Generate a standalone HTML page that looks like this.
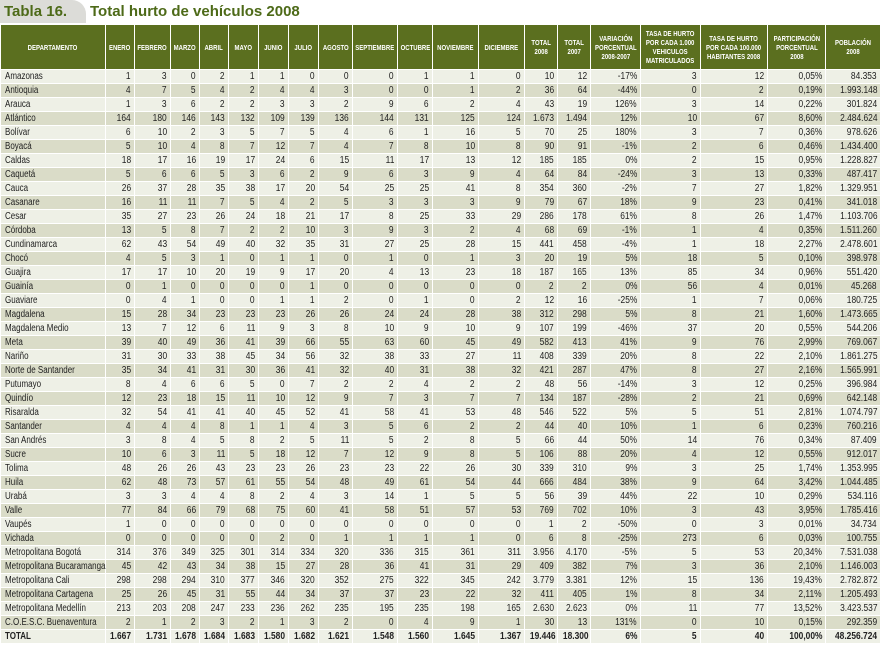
<!DOCTYPE html>
<html><head><meta charset="utf-8">
<style>
*{margin:0;padding:0;box-sizing:border-box}
body{width:880px;height:646px;background:#fff;font-family:"Liberation Sans",sans-serif;overflow:hidden;position:relative}
#title-tab{position:absolute;left:0;top:0;width:86px;height:23px;background:#dcdcd8;border-top-right-radius:14px;color:#4d6a18;font:bold 15px "Liberation Sans",sans-serif;padding:3px 0 0 4px}
#title-text{position:absolute;left:90px;top:3px;color:#4d6a18;font:bold 15px "Liberation Sans",sans-serif}
table{position:absolute;left:0;top:24px;width:880px;border-collapse:collapse;table-layout:fixed}
th{background:#5b6f1f;color:#fff;font-size:7.5px;font-weight:bold;height:45px;border:1px solid #fff;text-align:center;line-height:9px;padding:0;overflow:hidden}
th span{display:inline-block;transform:scaleX(.8);transform-origin:center;width:126%;margin-left:-13%}
td{height:14px;font-size:10px;color:#222;text-align:right;padding:0 3px 0 0;border:1px solid #fff;white-space:nowrap;overflow:hidden;line-height:12px}
td span{display:inline-block;transform:scaleX(.84);transform-origin:right center}
td.dep{text-align:left;padding-left:4px;overflow:visible}
td.dep span{transform:scaleX(.8);transform-origin:left center}
tr.l td{background:#eef0e6}
tr.d td{background:#dadcc8}
tr.tot td{font-weight:bold;background:#eef0e6}
</style></head><body>
<div id="title-tab">Tabla 16.</div>
<div id="title-text">Total hurto de vehículos 2008</div>
<table>
<colgroup><col style="width:105px"><col style="width:29px"><col style="width:36px"><col style="width:29px"><col style="width:29px"><col style="width:30px"><col style="width:30px"><col style="width:30px"><col style="width:34px"><col style="width:45px"><col style="width:35px"><col style="width:46px"><col style="width:46px"><col style="width:33px"><col style="width:33px"><col style="width:50px"><col style="width:60px"><col style="width:67px"><col style="width:58px"><col style="width:55px"></colgroup>
<thead><tr>
<th><span>DEPARTAMENTO</span></th>
<th><span>ENERO</span></th>
<th><span>FEBRERO</span></th>
<th><span>MARZO</span></th>
<th><span>ABRIL</span></th>
<th><span>MAYO</span></th>
<th><span>JUNIO</span></th>
<th><span>JULIO</span></th>
<th><span>AGOSTO</span></th>
<th><span>SEPTIEMBRE</span></th>
<th><span>OCTUBRE</span></th>
<th><span>NOVIEMBRE</span></th>
<th><span>DICIEMBRE</span></th>
<th><span>TOTAL<br>2008</span></th>
<th><span>TOTAL<br>2007</span></th>
<th><span>VARIACIÓN<br>PORCENTUAL<br>2008-2007</span></th>
<th><span>TASA DE HURTO<br>POR CADA 1.000<br>VEHICULOS<br>MATRICULADOS</span></th>
<th><span>TASA DE HURTO<br>POR CADA 100.000<br>HABITANTES 2008</span></th>
<th><span>PARTICIPACIÓN<br>PORCENTUAL<br>2008</span></th>
<th><span>POBLACIÓN<br>2008</span></th>
</tr></thead>
<tbody id="tb"></tbody>
</table>
<script>
const departments=["Amazonas","Antioquia","Arauca","Atlántico","Bolívar","Boyacá","Caldas","Caquetá","Cauca","Casanare","Cesar","Córdoba","Cundinamarca","Chocó","Guajira","Guainía","Guaviare","Magdalena","Magdalena Medio","Meta","Nariño","Norte de Santander","Putumayo","Quindío","Risaralda","Santander","San Andrés","Sucre","Tolima","Huila","Urabá","Valle","Vaupés","Vichada","Metropolitana Bogotá","Metropolitana Bucaramanga","Metropolitana Cali","Metropolitana Cartagena","Metropolitana Medellín","C.O.E.S.C. Buenaventura","TOTAL"];
const monthly=[
"1 3 0 2 1 1 0 0 0 1 1 0","4 7 5 4 2 4 4 3 0 0 1 2","1 3 6 2 2 3 3 2 9 6 2 4","164 180 146 143 132 109 139 136 144 131 125 124","6 10 2 3 5 7 5 4 6 1 16 5","5 10 4 8 7 12 7 4 7 8 10 8","18 17 16 19 17 24 6 15 11 17 13 12","5 6 6 5 3 6 2 9 6 3 9 4","26 37 28 35 38 17 20 54 25 25 41 8","16 11 11 7 5 4 2 5 3 3 3 9","35 27 23 26 24 18 21 17 8 25 33 29","13 5 8 7 2 2 10 3 9 3 2 4","62 43 54 49 40 32 35 31 27 25 28 15","4 5 3 1 0 1 1 0 1 0 1 3","17 17 10 20 19 9 17 20 4 13 23 18","0 1 0 0 0 0 1 0 0 0 0 0","0 4 1 0 0 1 1 2 0 1 0 2","15 28 34 23 23 23 26 26 24 24 28 38","13 7 12 6 11 9 3 8 10 9 10 9","39 40 49 36 41 39 66 55 63 60 45 49","31 30 33 38 45 34 56 32 38 33 27 11","35 34 41 31 30 36 41 32 40 31 38 32","8 4 6 6 5 0 7 2 2 4 2 2","12 23 18 15 11 10 12 9 7 3 7 7","32 54 41 41 40 45 52 41 58 41 53 48","4 4 4 8 1 1 4 3 5 6 2 2","3 8 4 5 8 2 5 11 5 2 8 5","10 6 3 11 5 18 12 7 12 9 8 5","48 26 26 43 23 23 26 23 23 22 26 30","62 48 73 57 61 55 54 48 49 61 54 44","3 3 4 4 8 2 4 3 14 1 5 5","77 84 66 79 68 75 60 41 58 51 57 53","1 0 0 0 0 0 0 0 0 0 0 0","0 0 0 0 0 2 0 1 1 1 1 0","314 376 349 325 301 314 334 320 336 315 361 311","45 42 43 34 38 15 27 28 36 41 31 29","298 298 294 310 377 346 320 352 275 322 345 242","25 26 45 31 55 44 34 37 37 23 22 32","213 203 208 247 233 236 262 235 195 235 198 165","2 1 2 3 2 1 3 2 0 4 9 1","1.667 1.731 1.678 1.684 1.683 1.580 1.682 1.621 1.548 1.560 1.645 1.367"];
const total2008=["10","36","43","1.673","70","90","185","64","354","79","286","68","441","20","187","2","12","312","107","582","408","421","48","134","546","44","66","106","339","666","56","769","1","6","3.956","409","3.779","411","2.630","30","19.446"];
const total2007=["12","64","19","1.494","25","91","185","84","360","67","178","69","458","19","165","2","16","298","199","413","339","287","56","187","522","40","44","88","310","484","39","702","2","8","4.170","382","3.381","405","2.623","13","18.300"];
const variation=["-17%","-44%","126%","12%","180%","-1%","0%","-24%","-2%","18%","61%","-1%","-4%","5%","13%","0%","-25%","5%","-46%","41%","20%","47%","-14%","-28%","5%","10%","50%","20%","9%","38%","44%","10%","-50%","-25%","-5%","7%","12%","1%","0%","131%","6%"];
const ratePerVehicles=["3","0","3","10","3","2","2","3","7","9","8","1","1","18","85","56","1","8","37","9","8","8","3","2","5","1","14","4","3","9","22","3","0","273","5","3","15","8","11","0","5"];
const ratePerInhabitants=["12","2","14","67","7","6","15","13","27","23","26","4","18","5","34","4","7","21","20","76","22","27","12","21","51","6","76","12","25","64","10","43","3","6","53","36","136","34","77","10","40"];
const share=["0,05%","0,19%","0,22%","8,60%","0,36%","0,46%","0,95%","0,33%","1,82%","0,41%","1,47%","0,35%","2,27%","0,10%","0,96%","0,01%","0,06%","1,60%","0,55%","2,99%","2,10%","2,16%","0,25%","0,69%","2,81%","0,23%","0,34%","0,55%","1,74%","3,42%","0,29%","3,95%","0,01%","0,03%","20,34%","2,10%","19,43%","2,11%","13,52%","0,15%","100,00%"];
const population=["84.353","1.993.148","301.824","2.484.624","978.626","1.434.400","1.228.827","487.417","1.329.951","341.018","1.103.706","1.511.260","2.478.601","398.978","551.420","45.268","180.725","1.473.665","544.206","769.067","1.861.275","1.565.991","396.984","642.148","1.074.797","760.216","87.409","912.017","1.353.995","1.044.485","534.116","1.785.416","34.734","100.755","7.531.038","1.146.003","2.782.872","1.205.493","3.423.537","292.359","48.256.724"];
const tb=document.getElementById('tb');
departments.forEach((d,i)=>{
  const tr=document.createElement('tr');
  tr.className=(i===departments.length-1)?'tot':(i%2===0?'l':'d');
  
  
  const vals=[d].concat(monthly[i].split(' '),[total2008[i],total2007[i],variation[i],ratePerVehicles[i],ratePerInhabitants[i],share[i],population[i]]);
  vals.forEach((v,j)=>{
    const td=document.createElement('td');
    if(j===0)td.className='dep';
    const sp=document.createElement('span');
    sp.textContent=v;
    td.appendChild(sp);
    
    
    tr.appendChild(td);
  });
  tb.appendChild(tr);
});
</script>
</body></html>
